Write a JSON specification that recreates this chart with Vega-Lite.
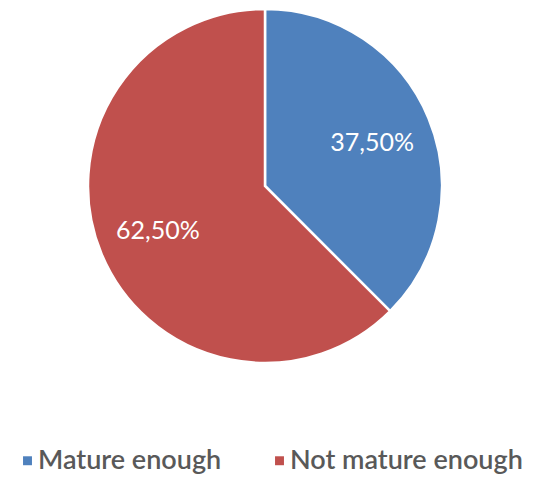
{
  "$schema": "https://vega.github.io/schema/vega-lite/v6.json",
  "width": 530,
  "height": 372,
  "padding": 0,
  "autosize": {"type": "pad"},
  "background": "white",
  "config": {"view": {"stroke": null}},
  "data": {"values": [
    {"category": "Mature enough", "value": 37.5, "label": "37,50%", "ord": 1},
    {"category": "Not mature enough", "value": 62.5, "label": "62,50%", "ord": 2}
  ]},
  "encoding": {
    "theta": {"field": "value", "type": "quantitative", "stack": true},
    "order": {"field": "ord", "type": "quantitative"},
    "color": {
      "field": "category", "type": "nominal",
      "scale": {"domain": ["Mature enough", "Not mature enough"], "range": ["#4F81BD", "#C0504D"]},
      "legend": {
        "title": null, "orient": "none", "direction": "horizontal",
        "legendX": 14, "legendY": 447,
        "symbolType": "square", "symbolSize": 80, "symbolStrokeWidth": 0,
        "labelFont": "Lato", "labelFontSize": 27, "labelColor": "#595959", "labelFontWeight": 600,
        "columnPadding": 44, "symbolOffset": 0, "labelOffset": -3, "labelLimit": 400
      }
    }
  },
  "layer": [
    {"mark": {"type": "arc", "outerRadius": 177, "stroke": "white", "strokeWidth": 2.5}},
    {"mark": {"type": "text", "radius": 116, "font": "Lato", "fontSize": 25, "fill": "white", "dy": 1},
     "encoding": {"text": {"field": "label", "type": "nominal"}}}
  ]
}
